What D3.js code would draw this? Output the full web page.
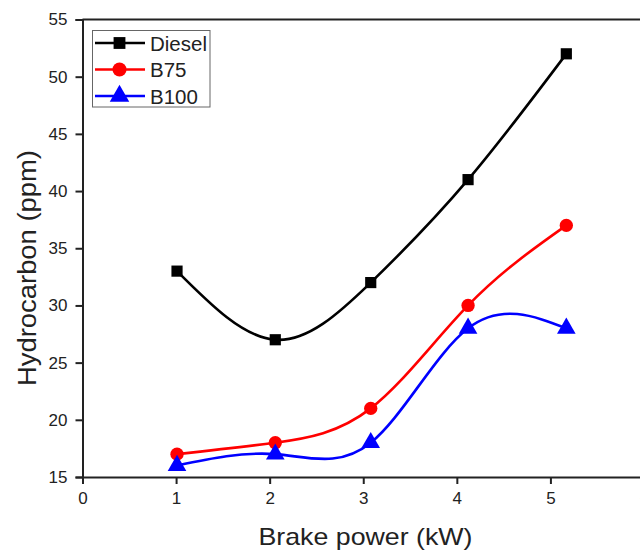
<!DOCTYPE html>
<html>
<head>
<meta charset="utf-8">
<script src="https://cdn.jsdelivr.net/npm/d3@7"></script>
<style>
  html, body { margin: 0; padding: 0; background: #fff; }
  svg { display: block; font-family: Arial, "Liberation Sans", sans-serif; }
</style>
</head>
<body>
<svg id="chart" width="640" height="551"></svg>
<script>
// Brake power (kW) at each test point
const brakePower = [1.01, 2.06, 3.08, 4.12, 5.17];
// Hydrocarbon emissions (ppm)
const diesel = [33, 27, 32, 41, 52];
const b75 = [17, 18, 21, 30, 37];
const b100 = [16, 17, 18, 28, 28];

const seriesNames = ["Diesel", "B75", "B100"];
const seriesColors = ["#000000", "#ff0000", "#0000ff"];
const seriesSymbols = [d3.symbolSquare, d3.symbolCircle, d3.symbolTriangle];
const seriesValues = [diesel, b75, b100];

const xTicks = [0, 1, 2, 3, 4, 5, 6];
const yTicks = [15, 20, 25, 30, 35, 40, 45, 50, 55];

const svg = d3.select("#chart");
const x = d3.scaleLinear().domain([0, 6]).range([82.5, 644]);
const y = d3.scaleLinear().domain([15, 55]).range([477, 19.5]);

// frame: top and right borders (the right one sits just past the canvas edge)
svg.append("line")
  .attr("x1", x(0)).attr("x2", x(6))
  .attr("y1", y(55)).attr("y2", y(55))
  .attr("stroke", "#222").attr("stroke-width", 2);
svg.append("line")
  .attr("x1", x(6)).attr("x2", x(6))
  .attr("y1", y(55)).attr("y2", y(15))
  .attr("stroke", "#222").attr("stroke-width", 2);

const xAxis = svg.append("g")
  .attr("transform", `translate(0,${y(15)})`)
  .call(d3.axisBottom(x).tickValues(xTicks).tickSize(7).tickPadding(8).tickFormat(d3.format("d")));
const yAxis = svg.append("g")
  .attr("transform", `translate(${x(0)},0)`)
  .call(d3.axisLeft(y).tickValues(yTicks).tickSize(7).tickPadding(8).tickFormat(d3.format("d")));

[xAxis, yAxis].forEach(g => {
  g.select(".domain").attr("stroke", "#222").attr("stroke-width", 2);
  g.selectAll(".tick line").attr("stroke", "#222").attr("stroke-width", 2);
  g.selectAll(".tick text")
    .attr("fill", "#222")
    .style("font-size", "17px")
    .style("font-family", "Arial, 'Liberation Sans', sans-serif");
});

// axis titles
svg.append("text")
  .attr("x", 365.5).attr("y", 545)
  .attr("text-anchor", "middle")
  .attr("fill", "#222")
  .attr("textLength", 214)
  .attr("lengthAdjust", "spacingAndGlyphs")
  .style("font-size", "24px")
  .text("Brake power (kW)");
svg.append("text")
  .attr("transform", "translate(36,268) rotate(-90)")
  .attr("text-anchor", "middle")
  .attr("fill", "#222")
  .attr("textLength", 236)
  .attr("lengthAdjust", "spacingAndGlyphs")
  .style("font-size", "25px")
  .text("Hydrocarbon (ppm)");

// smooth curves and markers
const line = d3.line()
  .x((d, i) => x(brakePower[i]))
  .y(d => y(d))
  .curve(d3.curveNatural);

const symbolSizes = [125, 140, 150];

seriesValues.forEach((vals, s) => {
  svg.append("path")
    .datum(vals)
    .attr("d", line)
    .attr("fill", "none")
    .attr("stroke", seriesColors[s])
    .attr("stroke-width", 2.6);
  svg.selectAll(null)
    .data(vals)
    .enter().append("path")
    .attr("transform", (d, i) => `translate(${x(brakePower[i])},${y(d)})`)
    .attr("d", d3.symbol().type(seriesSymbols[s]).size(symbolSizes[s]))
    .attr("fill", seriesColors[s]);
});

// legend
const legend = svg.append("g").attr("transform", "translate(92.5,30.5)");
legend.append("rect")
  .attr("width", 117.5).attr("height", 76.5)
  .attr("fill", "#fff")
  .attr("stroke", "#666").attr("stroke-width", 1);
seriesNames.forEach((name, s) => {
  const cy = 12.5 + s * 26.5;
  legend.append("line")
    .attr("x1", 2.5).attr("x2", 52.5)
    .attr("y1", cy).attr("y2", cy)
    .attr("stroke", seriesColors[s]).attr("stroke-width", 2.6);
  legend.append("path")
    .attr("transform", `translate(27,${cy})`)
    .attr("d", d3.symbol().type(seriesSymbols[s]).size(symbolSizes[s] + 15))
    .attr("fill", seriesColors[s]);
  legend.append("text")
    .attr("x", 57.5).attr("y", cy + 7.5)
    .attr("fill", "#222")
    .style("font-size", "20.5px")
    .text(name);
});
</script>
</body>
</html>
